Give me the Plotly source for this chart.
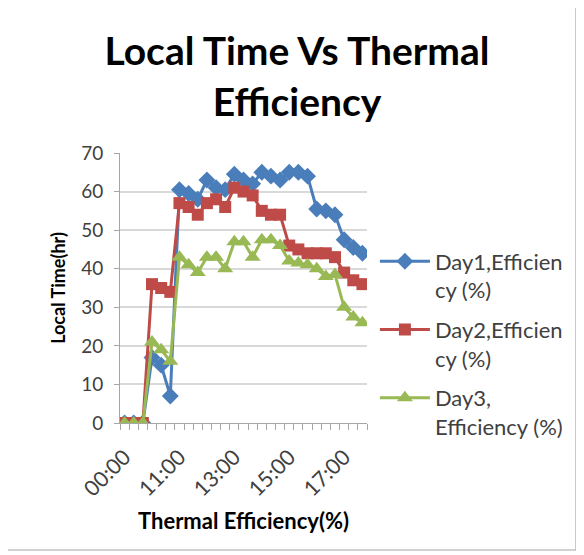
import plotly.graph_objects as go

# ---- data ----
times = ["00:00", "09:20", "09:40", "10:00", "10:20", "10:40", "11:00", "11:20", "11:40",
         "12:00", "12:20", "12:40", "13:00", "13:20", "13:40", "14:00", "14:20", "14:40",
         "15:00", "15:20", "15:40", "16:00", "16:20", "16:40", "17:00", "17:20", "17:40"]
day1 = [0, 0, 0, 17, 15, 7, 60.5, 59.5, 58, 63, 61, 60.5, 64.5, 63, 62, 65, 64, 63,
        65, 65, 64, 55.5, 55, 54, 47.5, 45.5, 44]
day2 = [0, 0, 0, 36, 35, 34, 57, 56, 54, 57, 58, 56, 61, 60, 59, 55, 54, 54,
        46, 45, 44, 44, 44, 43, 39, 37, 36]
day3 = [0, 0, 0, 21, 19, 16, 43, 41, 39, 43, 43, 40, 47, 47, 43, 47.5, 47.5, 46,
        42, 41.5, 41, 40, 38, 38.5, 30, 27.5, 26]
names = ["Day1,Efficien<br>cy (%)", "Day2,Efficien<br>cy (%)", "Day3,<br>Efficiency (%)"]
label_every = 6
y_ticks = [0, 10, 20, 30, 40, 50, 60, 70]

colors = ["#4A7EBB", "#BE4B48", "#98B954"]
symbols = ["diamond", "square", "triangle-up"]
sizes = [13, 12, 14]

idx = list(range(len(times)))
fig = go.Figure()
for vals, nm, c, s, sz in zip([day1, day2, day3], names, colors, symbols, sizes):
    fig.add_trace(go.Scatter(
        x=idx, y=vals, name=nm, mode="lines+markers", legendgroup=nm,
        line=dict(color=c, width=3),
        marker=dict(symbol=s, size=sz, color=c),
    ))

font = "Lato, 'Open Sans', sans-serif"
W, H = 576, 547
L, R, T, B = 112, 217, 145, 132
pw, ph = W - L - R, H - T - B
fig.update_layout(
    width=W, height=H,
    margin=dict(l=L, r=R, t=T, b=B),
    paper_bgcolor="white", plot_bgcolor="white",
    title=dict(text="<b>Local Time Vs Thermal<br>Efficiency</b>",
               x=289 / W, xanchor="center", y=1 - 57 / H, yanchor="middle",
               font=dict(family=font, size=39, color="#000000")),
    font=dict(family=font, color="#404040"),
    legend=dict(x=1.032, xanchor="left", y=0.676, yanchor="top",
                font=dict(family=font, size=22, color="#404040"),
                valign="top", tracegroupgap=8, itemwidth=50,
                bgcolor="rgba(0,0,0,0)"),
    xaxis=dict(
        range=[-0.5, len(times) - 0.5],
        tickmode="array",
        tickvals=idx[::label_every],
        ticktext=times[::label_every],
        tickangle=-45, ticks="", showgrid=False,
        ticklabelstandoff=12,
        tickfont=dict(family=font, size=21.5, color="#404040"),
        showline=True, linecolor="#A6A6A6", linewidth=1,
        minor=dict(tickmode="linear", tick0=-0.5, dtick=1, ticks="outside",
                   ticklen=6, tickcolor="#A6A6A6", tickwidth=1, showgrid=False),
        title=dict(text="<b>Thermal Efficiency(%)</b>", standoff=13,
                   font=dict(family=font, size=22, color="#000000")),
        zeroline=False,
    ),
    yaxis=dict(
        range=[0, 70], tickmode="array", tickvals=y_ticks,
        tickfont=dict(family=font, size=19, color="#404040"),
        ticklabelstandoff=7,
        showgrid=True, gridcolor="#D9D9D9", gridwidth=1.5,
        showline=True, linecolor="#A6A6A6", linewidth=1,
        ticks="outside", ticklen=5, tickcolor="#A6A6A6",
        title=dict(text="<b>Local Time(hr)</b>", standoff=10,
                   font=dict(family=font, size=18, color="#000000")),
        zeroline=False,
    ),
)
fig.add_shape(type="rect", xref="paper", yref="paper",
              x0=(-10 - L) / pw, x1=(568 - L) / pw,
              y0=(H - B - 542) / ph, y1=(H - B + 10) / ph,
              line=dict(color="#A6A6A6", width=1.2), layer="above")
fig.write_html("out.html")
